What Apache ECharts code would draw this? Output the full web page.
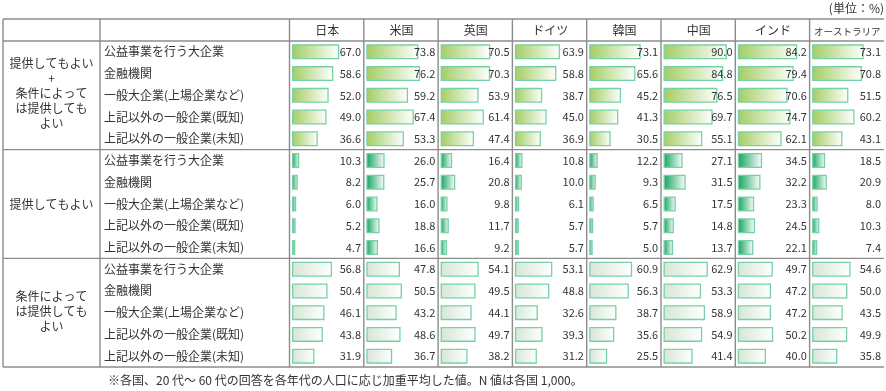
<!DOCTYPE html>
<html><head><meta charset="utf-8">
<script src="https://cdn.jsdelivr.net/npm/echarts@6/dist/echarts.min.js"></script>
<style>html,body{margin:0;padding:0;background:#fff}#c{width:886px;height:391px}</style>
</head><body><div id="c"></div>
<script>
// ---- data ----
const countries = ['日本', '米国', '英国', 'ドイツ', '韓国', '中国', 'インド', 'オーストラリア'];
const items = ['公益事業を行う大企業', '金融機関', '一般大企業(上場企業など)', '上記以外の一般企業(既知)', '上記以外の一般企業(未知)'];
const groupLabels = ['提供してもよい\n+\n条件によって\nは提供しても\nよい', '提供してもよい', '条件によって\nは提供しても\nよい'];
// provide OR conditionally provide (per country, per item)
const valsEither = [
  [67.0, 58.6, 52.0, 49.0, 36.6],
  [73.8, 76.2, 59.2, 67.4, 53.3],
  [70.5, 70.3, 53.9, 61.4, 47.4],
  [63.9, 58.8, 38.7, 45.0, 36.9],
  [73.1, 65.6, 45.2, 41.3, 30.5],
  [90.0, 84.8, 76.5, 69.7, 55.1],
  [84.2, 79.4, 70.6, 74.7, 62.1],
  [73.1, 70.8, 51.5, 60.2, 43.1]
];
// provide
const valsProvide = [
  [10.3, 8.2, 6.0, 5.2, 4.7],
  [26.0, 25.7, 16.0, 18.8, 16.6],
  [16.4, 20.8, 9.8, 11.7, 9.2],
  [10.8, 10.0, 6.1, 5.7, 5.7],
  [12.2, 9.3, 6.5, 5.7, 5.0],
  [27.1, 31.5, 17.5, 14.8, 13.7],
  [34.5, 32.2, 23.3, 24.5, 22.1],
  [18.5, 20.9, 8.0, 10.3, 7.4]
];
// conditionally provide
const valsConditional = [
  [56.8, 50.4, 46.1, 43.8, 31.9],
  [47.8, 50.5, 43.2, 48.6, 36.7],
  [54.1, 49.5, 44.1, 49.7, 38.2],
  [53.1, 48.8, 32.6, 39.3, 31.2],
  [60.9, 56.3, 38.7, 35.6, 25.5],
  [62.9, 53.3, 58.9, 54.9, 41.4],
  [49.7, 47.2, 47.2, 50.2, 40.0],
  [54.6, 50.0, 43.5, 49.9, 35.8]
];
const unitText = '(単位：%)';
const noteText = '※各国、20 代～ 60 代の回答を各年代の人口に応じ加重平均した値。N 値は各国 1,000。';

// ---- layout / style ----
const FONT = '"Noto Sans CJK JP", "Noto Sans", sans-serif';
const TXT = '#333333';
const LINE = '#8c8c8c';
const X0 = 289.5, CW = 74.3, TOP = 41, BOT = 367, HEAD = 19, LEFT = 3, COL1 = 100;
const GH = (BOT - TOP) / 3;
const grads = [['#a3cd64', '#ffffff'], ['#13a35e', '#ffffff'], ['#d6e6d5', '#ffffff']];
const groupsData = [valsEither, valsProvide, valsConditional];

function grad(g) {
  return new echarts.graphic.LinearGradient(0, 0, 1, 0, [
    { offset: 0, color: grads[g][0] }, { offset: 1, color: grads[g][1] }
  ]);
}

const cats = [];
for (let g = 0; g < 3; g++) for (let r = 0; r < items.length; r++) cats.push(g + '-' + r);

const grid = [], xAxis = [], yAxis = [], series = [];
countries.forEach((c, i) => {
  grid.push({ left: X0 + i * CW + 2.5, top: TOP, width: CW - 3.8, height: BOT - TOP });
  xAxis.push({
    gridIndex: i, type: 'value', min: 0, max: 100, position: 'top',
    axisLine: { show: false }, axisTick: { show: false }, axisLabel: { show: false }, splitLine: { show: false },
    name: c, nameLocation: 'middle', nameGap: 5,
    nameTextStyle: { fontFamily: FONT, fontSize: c.length > 4 ? 9.5 : 12, color: TXT, verticalAlign: 'bottom' }
  });
  yAxis.push({
    gridIndex: i, type: 'category', data: cats, inverse: true,
    axisLine: { show: false }, axisTick: { show: false }, splitLine: { show: false },
    axisLabel: i === 0 ? {
      show: true, align: 'left', margin: X0 + 2.5 - 104, fontFamily: FONT, fontSize: 12, color: TXT,
      formatter: (v, idx) => items[idx % items.length]
    } : { show: false }
  });
  const barData = [], lblData = [];
  for (let g = 0; g < 3; g++) {
    for (let r = 0; r < items.length; r++) {
      const v = groupsData[g][i][r];
      barData.push({ value: v, itemStyle: { color: grad(g) } });
      lblData.push({ value: 100, shown: v });
    }
  }
  series.push({
    type: 'bar', xAxisIndex: i, yAxisIndex: i, data: barData, barWidth: 15,
    itemStyle: { borderColor: '#76d2a6', borderWidth: 1.3 }, silent: true, z: 2
  });
  series.push({
    type: 'bar', xAxisIndex: i, yAxisIndex: i, data: lblData, barWidth: 15, barGap: '-100%',
    itemStyle: { color: 'rgba(0,0,0,0)' }, silent: true, z: 3,
    label: {
      show: true, position: 'insideRight', distance: 1.5, fontFamily: FONT, fontSize: 11, color: TXT,
      formatter: p => p.data.shown.toFixed(1)
    }
  });
});

// table lines
const graphic = [];
function hline(y) { graphic.push({ type: 'line', shape: { x1: LEFT, y1: y, x2: 884, y2: y }, style: { stroke: LINE, lineWidth: 1.4 }, silent: true }); }
function vline(x) { graphic.push({ type: 'line', shape: { x1: x, y1: HEAD, x2: x, y2: BOT }, style: { stroke: LINE, lineWidth: 1.4 }, silent: true }); }
[HEAD, TOP, TOP + GH, TOP + 2 * GH, BOT].forEach(hline);
vline(LEFT); vline(COL1); vline(X0);
for (let i = 1; i < countries.length; i++) vline(X0 + i * CW);

const groupOffsets = [-2, 0, -1.5];
groupLabels.forEach((t, g) => {
  graphic.push({
    type: 'text', silent: true,
    style: {
      text: t, x: (LEFT + COL1) / 2, y: TOP + GH * g + GH / 2 + groupOffsets[g],
      textAlign: 'center', textVerticalAlign: 'middle', align: 'center', verticalAlign: 'middle',
      font: '12px ' + FONT, fontSize: 12, fontFamily: FONT, lineHeight: 15, fill: TXT
    }
  });
});
graphic.push({
  type: 'text', silent: true,
  style: { text: unitText, x: 884, y: 8, textAlign: 'right', textVerticalAlign: 'middle', align: 'right', verticalAlign: 'middle',
    font: '12px ' + FONT, fontSize: 12, fontFamily: FONT, fill: TXT }
});
graphic.push({
  type: 'text', silent: true,
  style: { text: noteText, x: 108, y: 380, textAlign: 'left', textVerticalAlign: 'middle', align: 'left', verticalAlign: 'middle',
    font: '12px ' + FONT, fontSize: 12, fontFamily: FONT, fill: TXT }
});

const chart = echarts.init(document.getElementById('c'), null, { renderer: 'canvas' });
chart.setOption({
  animation: false,
  backgroundColor: '#ffffff',
  textStyle: { fontFamily: FONT },
  grid, xAxis, yAxis, series, graphic
});
</script>
</body></html>
